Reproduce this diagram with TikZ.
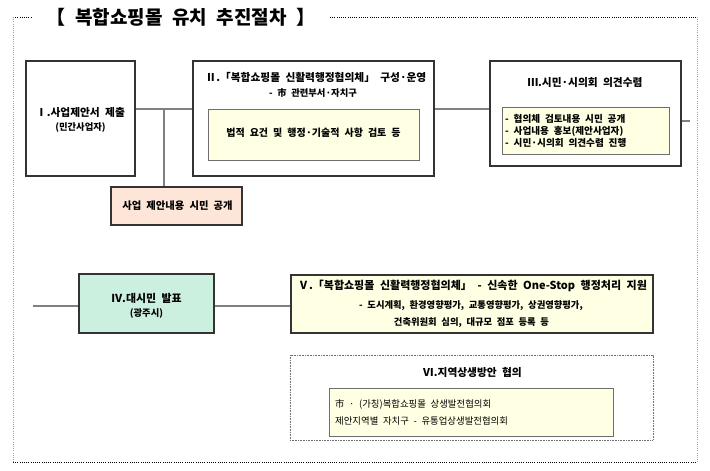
\documentclass[tikz,border=0pt]{standalone}
\usepackage{fontspec}
\setmainfont[WordSpace=2.2]{Noto Sans CJK KR}
\definecolor{bordc}{HTML}{333333}
\definecolor{innerc}{HTML}{6E6E6E}
\definecolor{linec}{HTML}{808080}
\definecolor{yel}{HTML}{FFFFE3}
\definecolor{peach}{HTML}{FDE6D8}
\definecolor{mint}{HTML}{CCF0E0}
\definecolor{framec}{HTML}{A0A0A0}
\newcommand\ttlfont{\fontsize{10.7}{12}\selectfont\bfseries}
\newcommand\subfont{\fontsize{9.3}{10}\selectfont\bfseries}
\newcommand\infont{\fontsize{9.6}{12}\selectfont\bfseries}
\begin{document}
\begin{tikzpicture}[x=1pt,y=-1pt,
  box/.style={draw=bordc, line width=1.1pt, rectangle, inner sep=0pt},
  ibox/.style={draw=innerc, line width=0.8pt, fill=yel, rectangle, inner sep=0pt},
  conn/.style={draw=linec, line width=1.2pt},
  txt/.style={inner sep=0pt, anchor=center},
  ltxt/.style={inner sep=0pt, anchor=west, align=left}]
\useasboundingbox (0,0) rectangle (710,471);
% outer frame
\coordinate (f1) at (13,17);
\coordinate (f2) at (32,17);
\coordinate (f3) at (330,17);
\coordinate (f4) at (697,17);
\coordinate (f5) at (697,462);
\coordinate (f6) at (13,462);
\draw[black, line width=0.9pt, dash pattern=on 1pt off 1.2pt] (f1) -- (f2);
\draw[black, line width=0.9pt, dash pattern=on 1pt off 1.2pt] (f3) -- (f4);
\draw[black, line width=0.9pt, dash pattern=on 1pt off 1.2pt] (f6) -- (f5);
\draw[framec, line width=0.9pt, dash pattern=on 1pt off 1.2pt] (f1) -- (f6);
\draw[framec, line width=0.9pt, dash pattern=on 1pt off 1.2pt] (f4) -- (f5);
\node[txt, font=\fontsize{19}{22}\selectfont\bfseries] (title) at (181,17) {【 복합쇼핑몰 유치 추진절차 】};
% Box I
\node[box, fill=white, minimum width=109pt, minimum height=115pt] (b1) at (80.5,118.5) {};
\node[txt, font=\ttlfont] (b1t) at (80.5,112) {Ⅰ.사업제안서 제출};
\node[txt, font=\subfont] (b1s) at (80.5,128) {(민간사업자)};
% Box II
\node[box, fill=white, minimum width=241pt, minimum height=115pt] (b2) at (313.5,118.5) {};
\node[txt, font=\ttlfont] (b2t) at (316,77) {Ⅱ.「복합쇼핑몰 신활력행정협의체」 구성·운영};
\node[txt, font=\subfont] (b2s) at (313,93) {- 市 관련부서·자치구};
\node[ibox, minimum width=211pt, minimum height=51pt] (b2i) at (313.5,134.5) {};
\node[txt, font=\fontsize{10}{12}\selectfont\bfseries] (b2it) at (313.5,133) {법적 요건 및 행정·기술적 사항 검토 등};
% Box III
\node[box, fill=white, minimum width=191pt, minimum height=105pt] (b3) at (585.5,113.5) {};
\node[txt, font=\ttlfont] (b3t) at (585,82) {Ⅲ.시민·시의회 의견수렴};
\node[ibox, minimum width=167pt, minimum height=47pt] (b3i) at (585.5,130.5) {};
\node[ltxt, font=\infont] (b3l1) at (505,119) {- 협의체 검토내용 시민 공개};
\node[ltxt, font=\infont] (b3l2) at (505,131) {- 사업내용 홍보(제안사업자)};
\node[ltxt, font=\infont] (b3l3) at (505,143) {- 시민·시의회 의견수렴 진행};
% peach box
\node[box, fill=peach, minimum width=131pt, minimum height=38pt] (pb) at (176.5,206) {};
\node[txt, font=\fontsize{10.3}{12}\selectfont\bfseries] (pbt) at (177.5,206) {사업 제안내용 시민 공개};
% Box IV
\node[box, fill=mint, minimum width=135pt, minimum height=59pt] (b4) at (146.5,303.5) {};
\node[txt, font=\fontsize{10.9}{12}\selectfont\bfseries] (b4t) at (146.5,298) {Ⅳ.대시민 발표};
\node[txt, font=\subfont] (b4s) at (146.5,314) {(광주시)};
% Box V
\node[box, fill=yel, minimum width=362pt, minimum height=58pt] (b5) at (472,304) {};
\node[txt, font=\fontsize{11}{12}\selectfont\bfseries] (b5t) at (472.5,286) {Ⅴ.「복합쇼핑몰 신활력행정협의체」 - 신속한 One-Stop 행정처리 지원};
\node[txt, font=\subfont] (b5l1) at (471,306) {- 도시계획, 환경영향평가, 교통영향평가, 상권영향평가,};
\node[txt, font=\subfont] (b5l2) at (471.5,323) {건축위원회 심의, 대규모 점포 등록 등};
% Box VI
\node[draw=innerc, line width=0.7pt, dash pattern=on 0.8pt off 0.8pt, rectangle, minimum width=363pt, minimum height=85pt, inner sep=0pt] (b6) at (471.5,397.5) {};
\node[txt, font=\ttlfont] (b6t) at (472.5,372) {Ⅵ.지역상생방안 협의};
\node[ibox, minimum width=284pt, minimum height=48pt] (b6i) at (471,412) {};
\node[ltxt, font=\fontsize{9.4}{12}\selectfont] (b6l1) at (335,404) {市 · (가칭)복합쇼핑몰 상생발전협의회};
\node[ltxt, font=\fontsize{9.4}{12}\selectfont] (b6l2) at (335,421) {제안지역별 자치구 - 유통업상생발전협의회};
% connectors
\coordinate (r1) at (0,109);
\coordinate (j1) at (164,109);
\coordinate (r3) at (0,121);
\coordinate (s3) at (690,121);
\coordinate (r4) at (0,306);
\coordinate (s4) at (33,306);
\draw[conn] (b1.east |- r1) -- (b2.west |- r1);
\draw[conn] (j1) -- (j1 |- pb.north);
\draw[conn] (b2.east |- r1) -- (b3.west |- r1);
\draw[conn] (b3.east |- r3) -- (s3);
\draw[conn] (s4) -- (b4.west |- r4);
\draw[conn] (b4.east |- r4) -- (b5.west |- r4);
\end{tikzpicture}
\end{document}
